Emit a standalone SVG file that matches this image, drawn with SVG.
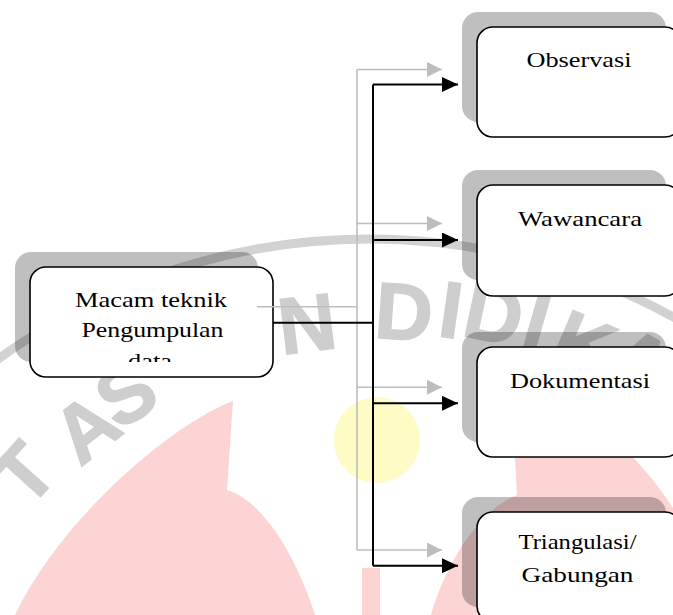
<svg xmlns="http://www.w3.org/2000/svg" width="673" height="615" viewBox="0 0 673 615">
  <defs>
    <style>
      .shadow { fill: #000000; fill-opacity: 0.25; }
      .box { fill: #ffffff; stroke: #000000; stroke-width: 1.6; }
      .lbl { font-family: "Liberation Serif", "Times New Roman", serif; font-size: 22px; fill: #000000; text-anchor: middle; }
      .blk { fill: none; stroke: #000000; stroke-width: 2; }
      .gry { fill: none; stroke: #bdbdbd; stroke-width: 1.6; }
      .wm { font-family: "Liberation Sans", Arial, sans-serif; font-weight: bold; font-size: 80px; fill: #cecece; stroke: #cecece; stroke-width: 1.5; text-anchor: middle; dominant-baseline: central; }
      .pink { fill: #fcd4d4; }
    </style>
    <marker id="ahB" viewBox="0 0 16 15" refX="16" refY="7.5" markerWidth="16" markerHeight="15" markerUnits="userSpaceOnUse" orient="auto">
      <path d="M0 0 L16 7.5 L0 15 Z" fill="#000000"/>
    </marker>
    <marker id="ahG" viewBox="0 0 15 15" refX="15" refY="7.5" markerWidth="15" markerHeight="15" markerUnits="userSpaceOnUse" orient="auto">
      <path d="M0 0 L15 7.5 L0 15 Z" fill="#bdbdbd"/>
    </marker>
    <clipPath id="clipMacam">
      <rect x="30" y="267" width="243" height="95"/>
    </clipPath>
  </defs>

  <rect x="0" y="0" width="673" height="615" fill="#ffffff"/>

  <g id="watermark">
    <circle cx="369" cy="871" r="632" fill="none" stroke="#d2d2d2" stroke-width="9"/>
    <text class="wm" transform="translate(24,474) rotate(-48)">T</text>
    <text class="wm" transform="translate(86,428) rotate(-38)">A</text>
    <text class="wm" transform="translate(126,394) rotate(-32)">S</text>
    <text class="wm" transform="translate(307,324) rotate(-7)">N</text>
    <text class="wm" transform="translate(404,312) rotate(4)">D</text>
    <text class="wm" transform="translate(451,310) rotate(8)">I</text>
    <text class="wm" transform="translate(494,314) rotate(12)">D</text>
    <text class="wm" transform="translate(537,322) rotate(16)">I</text>
    <text class="wm" transform="translate(584,345) rotate(23)">K</text>
    <text class="wm" transform="translate(640,362) rotate(29)">A</text>
    <path class="pink" d="M233 401 C 170 425, 60 520, 15 615 L 315 615 C 296 555, 262 500, 227 490 Z"/>
    <path class="pink" d="M513 420 L517 495 C 480 510, 447 560, 431 615 L 673 615 L 673 508 C 660 488, 640 462, 620 445 C 590 430, 550 420, 513 420 Z"/>
    <rect class="pink" x="362" y="568" width="18" height="47"/>
    <circle cx="377" cy="440" r="43" fill="#fefbc4"/>
  </g>

  <g id="node-macam">
    <rect class="shadow" x="15" y="252" width="243" height="110" rx="16"/>
    <rect class="box" x="30" y="267" width="243" height="110" rx="16"/>
    <g clip-path="url(#clipMacam)">
      <text class="lbl" x="151" y="306.5" textLength="152" lengthAdjust="spacingAndGlyphs">Macam teknik</text>
      <text class="lbl" x="152.5" y="336.5" textLength="142" lengthAdjust="spacingAndGlyphs">Pengumpulan</text>
      <text class="lbl" x="150" y="368" textLength="44" lengthAdjust="spacingAndGlyphs">data</text>
    </g>
  </g>

  <g id="node-observasi">
    <rect class="shadow" x="462" y="12" width="204" height="110" rx="16"/>
    <rect class="box" x="477" y="27" width="204" height="110" rx="16"/>
    <text class="lbl" x="579" y="67" textLength="105" lengthAdjust="spacingAndGlyphs">Observasi</text>
  </g>

  <g id="node-wawancara">
    <rect class="shadow" x="462" y="170" width="204" height="110" rx="16"/>
    <rect class="box" x="477" y="185" width="204" height="111" rx="16"/>
    <text class="lbl" x="580" y="225.5" textLength="124" lengthAdjust="spacingAndGlyphs">Wawancara</text>
  </g>

  <g id="node-dokumentasi">
    <rect class="shadow" x="462" y="332" width="204" height="110" rx="16"/>
    <rect class="box" x="477" y="347" width="204" height="110" rx="16"/>
    <text class="lbl" x="580" y="387.5" textLength="140" lengthAdjust="spacingAndGlyphs">Dokumentasi</text>
  </g>

  <g id="node-triangulasi">
    <rect class="shadow" x="462" y="497" width="204" height="110" rx="16"/>
    <rect class="box" x="477" y="512" width="204" height="110" rx="16"/>
    <text class="lbl" x="577.5" y="548.5" textLength="118" lengthAdjust="spacingAndGlyphs">Triangulasi/</text>
    <text class="lbl" x="577.5" y="582" textLength="112" lengthAdjust="spacingAndGlyphs">Gabungan</text>
  </g>

  <g id="connectors">
    <path class="gry" d="M257 306.7 H357"/>
    <path class="gry" d="M357 69.5 V550"/>
    <path class="gry" d="M357 69.5 H442" marker-end="url(#ahG)"/>
    <path class="gry" d="M357 223.5 H442" marker-end="url(#ahG)"/>
    <path class="gry" d="M357 387.3 H442" marker-end="url(#ahG)"/>
    <path class="gry" d="M357 550 H442" marker-end="url(#ahG)"/>
    <path class="blk" d="M273 322.7 H373"/>
    <path class="blk" d="M373 84.5 V565.7"/>
    <path class="blk" d="M373 84.5 H458" marker-end="url(#ahB)"/>
    <path class="blk" d="M373 240 H458" marker-end="url(#ahB)"/>
    <path class="blk" d="M373 403.3 H458" marker-end="url(#ahB)"/>
    <path class="blk" d="M373 565.7 H458" marker-end="url(#ahB)"/>
  </g>
</svg>
